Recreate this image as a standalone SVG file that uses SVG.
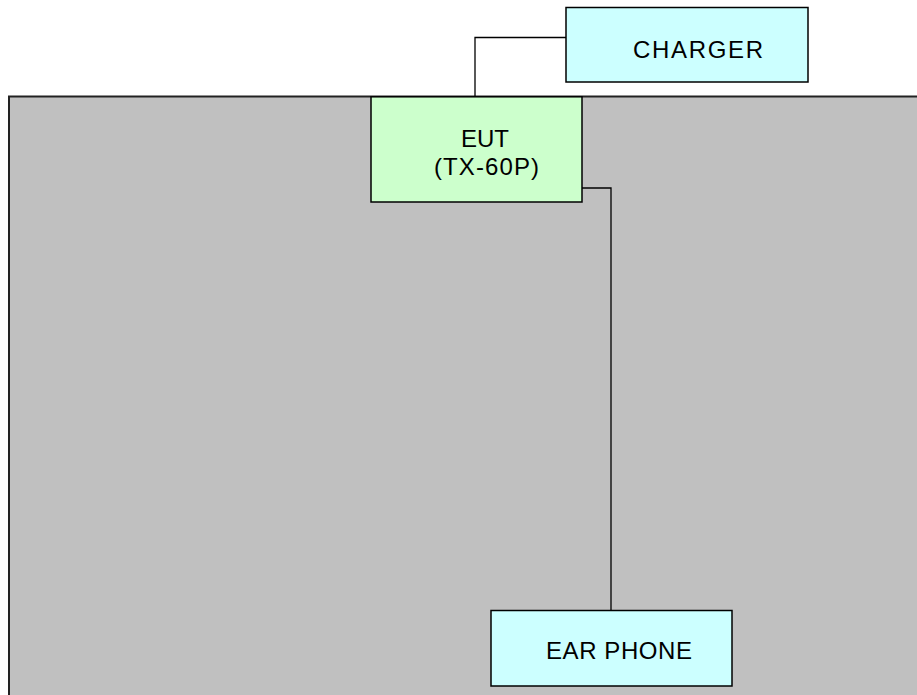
<svg xmlns="http://www.w3.org/2000/svg" width="917" height="695" viewBox="0 0 917 695">
<style>
.box{stroke:#000;stroke-width:1.5}
.eut{fill:#ccffcc}
.aux{fill:#ccffff}
.lbl{font-family:"Liberation Sans",Arial,sans-serif;font-size:24px;fill:#000;text-anchor:middle}
.wire{fill:none;stroke:#000;stroke-width:1.3}
</style>
<rect id="table" x="9" y="96.5" width="930" height="620" fill="#c0c0c0" stroke="#222" stroke-width="2"/>
<g id="connectors">
<polyline class="wire" points="566,37.5 475,37.5 475,97"/>
<polyline class="wire" points="580,188 611,188 611,610"/>
</g>
<g id="charger">
<rect class="box aux" x="566" y="7.5" width="242" height="74.5"/>
<text class="lbl" x="698" y="58.3" textLength="130" lengthAdjust="spacing">CHARGER</text>
</g>
<g id="eut">
<rect class="box eut" x="371" y="96.8" width="211" height="105.2"/>
<text class="lbl" x="485" y="146.7" textLength="48" lengthAdjust="spacing">EUT</text>
<text class="lbl" x="486.5" y="175" textLength="105" lengthAdjust="spacing">(TX-60P)</text>
</g>
<g id="earphone">
<rect class="box aux" x="491" y="610.5" width="241" height="75.5"/>
<text class="lbl" x="619" y="659.3" textLength="146" lengthAdjust="spacing">EAR PHONE</text>
</g>
</svg>
